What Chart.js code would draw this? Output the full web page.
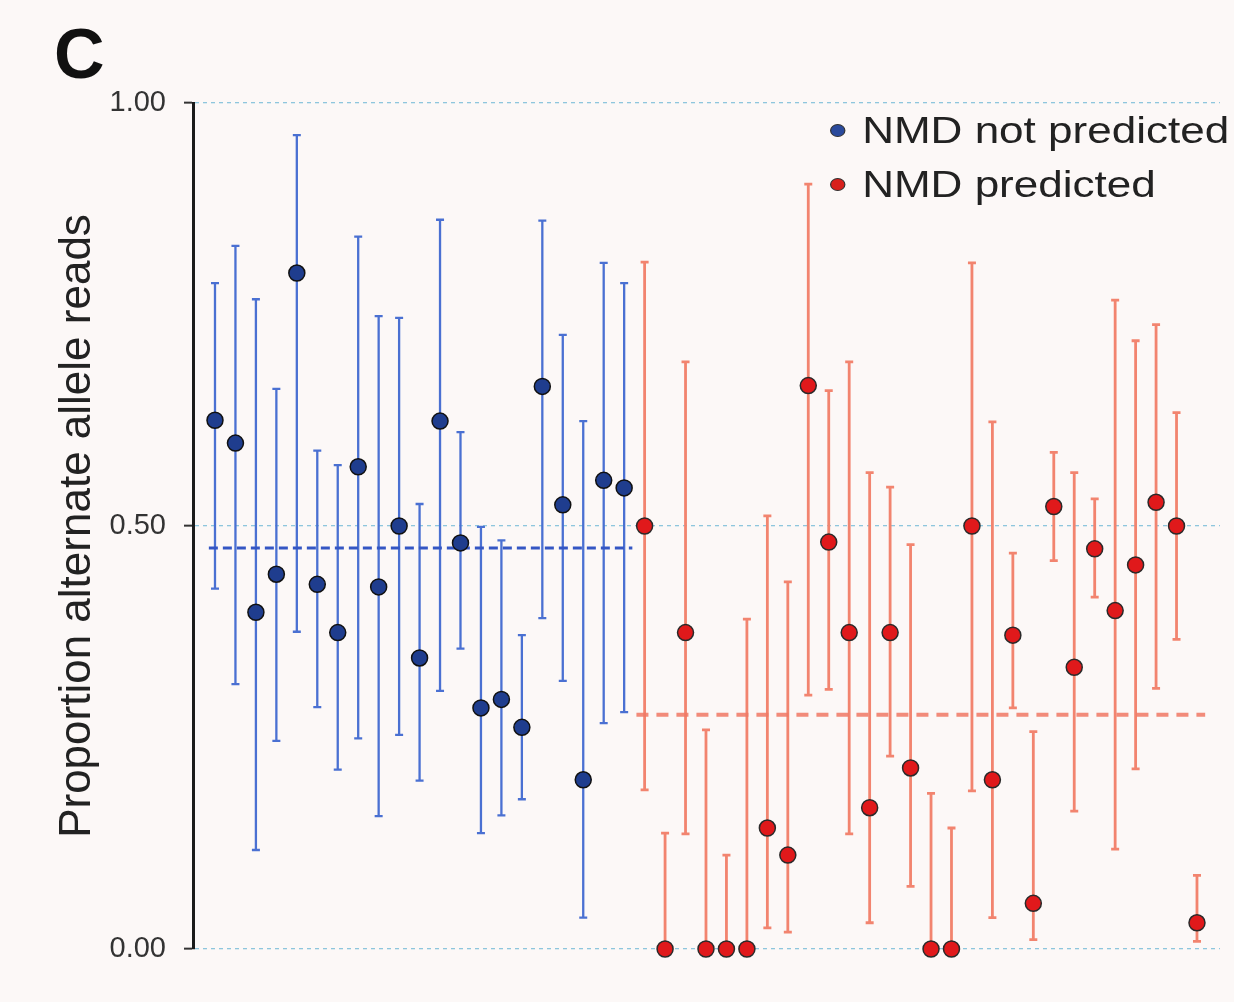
<!DOCTYPE html>
<html>
<head>
<meta charset="utf-8">
<script src="https://cdn.jsdelivr.net/npm/chart.js@4.4.1/dist/chart.umd.min.js"></script>
<style>
  html, body { margin: 0; padding: 0; background: #fcf8f7; }
  #wrap { position: relative; width: 1234px; height: 1002px; overflow: hidden; }
  #panel { position: absolute; left: 54px; top: 14px; font: bold 70px "Liberation Sans", Arial, sans-serif; color: #111; }
  .leg { position: absolute; left: 830px; font: 37px "Liberation Sans", Arial, sans-serif; color: #222;
         transform: scaleX(1.19); transform-origin: left center; white-space: nowrap; }
  .leg span { display: inline-block; width: 11px; height: 11px; border-radius: 50%; margin-right: 14px;
              vertical-align: middle; position: relative; top: -3px; border: 1.5px solid #333; }
</style>
</head>
<body>
<div id="wrap">
  <canvas id="chart" width="1234" height="1002"></canvas>
  <div id="panel">C</div>
  <div class="leg" style="top:110px"><span style="background:#2a4a9c"></span>NMD not predicted</div>
  <div class="leg" style="top:164px"><span style="background:#d8201c"></span>NMD predicted</div>
</div>
<script>
// NMD not predicted (blue)
const blueValues = [0.625, 0.598, 0.398, 0.443, 0.799, 0.431, 0.374, 0.570, 0.428, 0.500, 0.344,
                    0.624, 0.480, 0.285, 0.295, 0.262, 0.665, 0.525, 0.200, 0.554, 0.545];
const blueUpper  = [0.787, 0.831, 0.768, 0.662, 0.962, 0.589, 0.572, 0.842, 0.748, 0.746, 0.526,
                    0.862, 0.611, 0.499, 0.483, 0.371, 0.861, 0.726, 0.624, 0.811, 0.787];
const blueLower  = [0.426, 0.313, 0.117, 0.246, 0.375, 0.286, 0.212, 0.249, 0.157, 0.253, 0.199,
                    0.305, 0.355, 0.137, 0.158, 0.177, 0.391, 0.317, 0.037, 0.267, 0.280];

// NMD predicted (red)
const redValues = [0.500, 0.000, 0.374, 0.000, 0.000, 0.000, 0.143, 0.111, 0.666, 0.481, 0.374, 0.167, 0.374, 0.214,
                   0.000, 0.000, 0.500, 0.200, 0.371, 0.054, 0.523, 0.333, 0.473, 0.400, 0.454, 0.528, 0.500, 0.031];
const redUpper  = [0.812, 0.137, 0.694, 0.259, 0.111, 0.390, 0.512, 0.434, 0.904, 0.660, 0.694, 0.563, 0.546, 0.478,
                   0.184, 0.143, 0.811, 0.623, 0.468, 0.257, 0.587, 0.563, 0.532, 0.767, 0.719, 0.738, 0.634, 0.087];
const redLower  = [0.188, 0.000, 0.136, 0.000, 0.000, 0.000, 0.025, 0.020, 0.300, 0.307, 0.136, 0.031, 0.228, 0.074,
                   0.000, 0.000, 0.187, 0.037, 0.285, 0.011, 0.459, 0.163, 0.416, 0.118, 0.213, 0.308, 0.366, 0.009];

const blueMean = 0.474;
const redMean = 0.277;
const yTicks = [0, 0.5, 1];

const bluePoints = blueValues.map((v, i) => ({ x: i, y: v }));
const redPoints = redValues.map((v, i) => ({ x: blueValues.length + i, y: v }));
const nBlue = blueValues.length, nAll = nBlue + redValues.length;

// error bars drawn with the chart's own scales
const errorBars = {
    id: 'errorBars',
    beforeDatasetsDraw(chart) {
        const ctx = chart.ctx;
        const y = chart.scales.y, x = chart.scales.x;
        const sets = [
            { lo: blueLower, hi: blueUpper, off: 0, color: '#4a70d2', w: 2.3 },
            { lo: redLower, hi: redUpper, off: nBlue, color: '#f2846f', w: 2.8 }
        ];
        ctx.save();
        sets.forEach(s => {
            ctx.strokeStyle = s.color;
            ctx.lineWidth = s.w;
            s.lo.forEach((lo, i) => {
                const px = x.getPixelForValue(s.off + i);
                const top = y.getPixelForValue(s.hi[i]);
                const bot = y.getPixelForValue(lo);
                ctx.beginPath();
                ctx.moveTo(px, top); ctx.lineTo(px, bot);
                ctx.moveTo(px - 4, top); ctx.lineTo(px + 4, top);
                ctx.moveTo(px - 4, bot); ctx.lineTo(px + 4, bot);
                ctx.stroke();
            });
        });
        ctx.restore();
    }
};

new Chart(document.getElementById('chart'), {
    type: 'scatter',
    data: {
        datasets: [
            { label: 'blue mean', type: 'line', data: [{ x: -0.3, y: blueMean }, { x: nBlue - 0.6, y: blueMean }],
              borderColor: '#3456c4', borderWidth: 3, borderDash: [9, 5], pointRadius: 0, order: 3 },
            { label: 'red mean', type: 'line', data: [{ x: nBlue - 0.4, y: redMean }, { x: nAll - 0.6, y: redMean }],
              borderColor: 'rgba(240,120,100,0.85)', borderWidth: 4, borderDash: [12, 8], pointRadius: 0, order: 3 },
            { label: 'NMD not predicted', data: bluePoints, backgroundColor: '#1f3d8e', borderColor: '#111',
              borderWidth: 1.5, pointRadius: 8, clip: false, order: 1 },
            { label: 'NMD predicted', data: redPoints, backgroundColor: '#e0191b', borderColor: '#2a2a2a',
              borderWidth: 1.5, pointRadius: 8, clip: false, order: 1 }
        ]
    },
    options: {
        responsive: false,
        animation: false,
        layout: { padding: { left: 0, top: 103, right: 14, bottom: 53 } },
        plugins: { legend: { display: false }, tooltip: { enabled: false } },
        scales: {
            x: { type: 'linear', min: -1.075, max: 49.125, display: false },
            y: {
                min: 0, max: 1,
                afterFit: s => { s.width = 193; },
                afterBuildTicks: s => { s.ticks = yTicks.map(v => ({ value: v })); },
                ticks: { callback: v => v.toFixed(2), padding: 18, color: '#333',
                         font: { family: '"Liberation Sans", Arial, sans-serif', size: 29 } },
                grid: { color: '#8ec6dd', lineWidth: 1.3, tickLength: 9, tickColor: '#333', tickWidth: 2,
                        tickBorderDash: [] },
                border: { display: true, color: '#1a1a1a', width: 3, dash: [4, 4] },
                title: { display: true, text: 'Proportion alternate allele reads', color: '#222',
                         padding: { top: 51, bottom: 0 },
                         font: { family: '"Liberation Sans", Arial, sans-serif', size: 44 } }
            }
        }
    },
    plugins: [errorBars]
});
</script>
</body>
</html>
